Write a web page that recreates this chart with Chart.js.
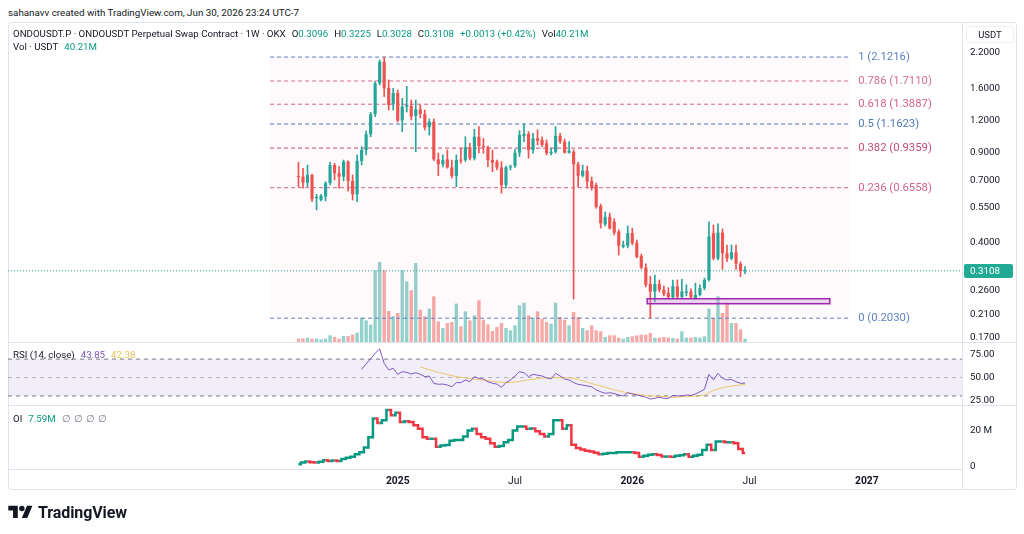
<!DOCTYPE html>
<html>
<head>
<meta charset="utf-8">
<script src="https://cdn.jsdelivr.net/npm/chart.js"></script>
<style>
  body { margin:0; background:#fff; width:1024px; height:534px; overflow:hidden; font-family: Roboto, "Noto Sans", sans-serif; color:#131722; }
  canvas { position:absolute; left:0; }
  .txt { position:absolute; white-space:nowrap; font-size:9.7px; line-height:12px; }
  .g { color:#089981; }
  .sp { margin-left:6px; }
  .hl { position:absolute; height:1px; background:#e0e3eb; }
  .vl { position:absolute; width:1px; background:#e0e3eb; }
</style>
</head>
<body>
<div class="txt" style="left:8px;top:7px;font-size:9.8px">sahanavv created with TradingView.com, Jun 30, 2026 23:24 UTC-7</div>
<div id="frame" style="position:absolute;left:8px;top:22px;width:1007px;height:466px;border:1px solid #e0e3eb;border-radius:3px"></div>

<canvas id="mainChart" width="1024" height="324" style="top:22px"></canvas>
<canvas id="rsiChart" width="1024" height="66" style="top:342px"></canvas>
<canvas id="oiChart" width="1024" height="85" style="top:405px"></canvas>

<div class="hl" style="left:8px;top:342px;width:1008px"></div>
<div class="hl" style="left:8px;top:405px;width:1008px"></div>
<div class="vl" style="left:962px;top:468px;height:21px"></div>

<div class="txt" style="left:13px;top:28px">ONDOUSDT.P · ONDOUSDT Perpetual Swap Contract · 1W · OKX<span class="sp">O</span><span class="g">0.3096</span><span class="sp">H</span><span class="g">0.3225</span><span class="sp">L</span><span class="g">0.3028</span><span class="sp">C</span><span class="g">0.3108</span><span class="sp g">+0.0013 (+0.42%)</span><span class="sp">Vol</span><span class="g">40.21M</span></div>
<div class="txt" style="left:13px;top:41px">Vol · USDT<span class="sp g">40.21M</span></div>
<div class="txt" style="left:966px;top:26px;width:46px;height:15px;line-height:15px;text-align:center;font-size:9.5px;border:1px solid #eef0f3;border-radius:2px">USDT</div>
<div class="txt" style="left:13px;top:349px">RSI (14, close)<span class="sp" style="color:#7e57c2">43.85</span><span class="sp" style="color:#e9c25a">42.38</span></div>
<div class="txt" style="left:13px;top:413px">OI<span class="sp g">7.59M</span><span class="sp" style="color:#787b86;letter-spacing:3px">∅∅∅∅</span></div>

<div style="position:absolute;left:8px;top:502px;height:20px;display:flex;align-items:center">
  <svg width="25" height="19" viewBox="0 0 36 28"><path d="M14 22H7V11H0V4h14v18zM28 22h-8l7.5-18h8L28 22z" fill="#131722"/><circle cx="20" cy="8" r="4" fill="#131722"/></svg>
  <span style="margin-left:5px;font-size:16px;font-weight:700;letter-spacing:-0.1px">TradingView</span>
</div>

<script>
// weekly bars, index 0 = week of Aug 5 2024, index 99 = week of Jun 29 2026
var opens = [0.728,0.724,0.686,0.735,0.597,0.587,0.605,0.683,0.804,0.747,
  0.724,0.829,0.697,0.618,0.834,0.920,1.060,1.268,1.676,2.035,
  1.606,1.388,1.536,1.200,1.358,1.367,1.249,1.326,1.272,1.129,
  1.187,0.846,0.809,0.846,0.787,0.728,0.841,0.841,0.943,0.855,
  1.037,0.954,0.943,0.841,0.829,0.787,0.672,0.787,0.797,0.898,
  1.044,1.063,0.920,1.022,1.007,0.977,0.894,0.906,1.044,0.992,
  0.898,0.906,0.809,0.730,0.764,0.697,0.672,0.556,0.472,0.505,
  0.483,0.442,0.386,0.389,0.436,0.400,0.355,0.320,0.276,0.258,
  0.276,0.262,0.255,0.245,0.270,0.246,0.255,0.258,0.241,0.250,
  0.266,0.286,0.436,0.347,0.438,0.364,0.347,0.367,0.331,0.3096];
var highs = [0.824,0.781,0.804,0.742,0.618,0.618,0.692,0.824,0.817,0.793,
  0.841,0.834,0.735,0.880,0.948,1.092,1.291,1.700,2.066,2.1216,
  1.726,1.601,1.578,1.464,1.631,1.442,1.442,1.379,1.318,1.216,
  1.216,0.896,0.880,0.920,0.841,0.880,0.934,1.037,0.977,1.109,
  1.135,1.022,0.954,0.920,0.841,0.829,0.797,0.804,0.926,1.095,
  1.162,1.085,1.068,1.102,1.035,1.007,0.937,1.135,1.068,1.016,
  0.992,0.920,0.826,0.804,0.797,0.722,0.683,0.566,0.527,0.522,
  0.496,0.449,0.406,0.465,0.456,0.410,0.361,0.331,0.296,0.299,
  0.286,0.271,0.267,0.286,0.286,0.288,0.274,0.264,0.278,0.274,
  0.291,0.483,0.469,0.474,0.453,0.392,0.392,0.392,0.337,0.3225];
var lows = [0.662,0.653,0.662,0.578,0.537,0.582,0.582,0.672,0.703,0.653,
  0.697,0.636,0.587,0.578,0.804,0.880,1.037,1.241,1.650,1.487,
  1.318,1.318,1.184,1.085,1.295,1.205,0.906,1.227,1.102,1.053,
  0.837,0.730,0.790,0.781,0.716,0.662,0.817,0.829,0.841,0.841,
  0.896,0.894,0.793,0.757,0.769,0.624,0.653,0.769,0.787,0.867,
  0.992,0.855,0.894,0.963,0.948,0.880,0.880,0.894,0.977,0.894,
  0.894,0.241,0.660,0.722,0.653,0.642,0.545,0.456,0.465,0.452,
  0.429,0.358,0.382,0.382,0.392,0.349,0.316,0.269,0.2030,0.235,
  0.257,0.248,0.241,0.243,0.243,0.243,0.248,0.243,0.241,0.248,
  0.262,0.283,0.343,0.343,0.315,0.337,0.343,0.315,0.295,0.3028];
var closes = [0.722,0.686,0.735,0.591,0.604,0.610,0.683,0.804,0.747,0.724,
  0.829,0.697,0.618,0.834,0.920,1.060,1.268,1.676,2.035,1.601,
  1.379,1.536,1.200,1.358,1.379,1.243,1.326,1.272,1.127,1.187,
  0.846,0.809,0.841,0.787,0.728,0.841,0.836,0.943,0.855,1.037,
  0.954,0.943,0.841,0.821,0.787,0.672,0.787,0.793,0.898,1.053,
  1.063,0.920,1.022,1.001,0.963,0.894,0.906,1.044,0.992,0.898,
  0.914,0.809,0.730,0.764,0.692,0.655,0.552,0.476,0.505,0.455,
  0.438,0.389,0.392,0.436,0.398,0.352,0.320,0.274,0.258,0.276,
  0.262,0.252,0.245,0.271,0.246,0.258,0.258,0.245,0.250,0.266,
  0.286,0.423,0.347,0.438,0.364,0.347,0.367,0.331,0.3096,0.3108];
// volume in millions USDT
var volumes = [41,44,52,40,40,32,40,80,60,40,
  72,72,88,112,292,260,208,860,960,860,
  372,308,348,860,728,620,948,388,308,400,
  548,248,168,228,240,460,188,368,260,320,
  500,268,212,132,180,228,168,140,200,440,
  472,320,292,368,280,240,220,472,300,268,
  200,360,300,168,140,200,140,128,60,80,
  80,52,40,60,68,80,88,88,108,52,
  52,60,52,48,40,128,52,52,60,52,
  68,400,288,548,348,472,228,228,152,40.21];

var rsiStart = 14;
var rsiValues = [58.9,64.7,70.4,76.3,81.0,65.4,58.2,60.0,53.5,56.3,
  55.6,53.8,55.2,53.5,50.9,51.6,43.7,42.6,42.9,41.8,
  40.0,44.4,44.4,47.3,45.4,50.9,49.1,48.4,45.4,43.7,
  42.9,39.3,44.4,47.3,51.6,56.3,
  55.2,50.9,53.5,52.5,51.6,49.5,48.4,54.5,51.6,48.4,
  47.3,44.5,42.5,41.8,40.8,40.0,36.4,34.5,32.8,33.5,
  32.5,31.0,29.9,33.5,32.1,31.0,30.0,28.5,26.6,27.5,
  28.5,27.4,27.4,30.5,30.0,29.9,31.0,30.5,32.1,34.5,
  37.2,53.5,47.3,54.5,49.1,47.3,47.9,45.5,43.7,43.85];
var rsiMaStart = 27;
var rsiMa = [61.7,60.0,58.5,57.0,55.5,54.5,53.2,52.0,51.0,50.2,
  49.5,49.0,48.2,47.5,47.0,46.5,45.8,45.2,44.8,44.6,44.6,45.0,45.8,
  46.7,47.5,48.0,48.7,49.3,49.7,49.8,49.8,49.8,49.8,
  49.6,49.1,47.8,46.4,45.0,43.5,42.0,40.8,39.5,38.0,
  36.6,35.5,34.4,33.3,32.5,31.8,31.0,30.4,30.0,29.8,
  29.6,29.3,28.9,28.6,28.7,29.1,29.4,29.5,29.7,30.0,
  31.0,33.5,36.0,37.5,38.8,40.0,40.6,41.3,41.9,42.38];
var rsiBands = [70, 50, 30];

// open interest, millions
var oiValues = [1.5,2.5,3.0,2.6,2.4,2.8,3.7,3.3,3.5,3.2,
  4.3,5.0,5.6,7.0,8.0,10.7,16.3,26.5,24.1,25.6,
  31.1,28.3,29.6,24.6,25.0,24.6,22.8,20.9,16.3,15.4,
  15.4,11.1,11.7,12.0,14.4,14.8,14.8,16.7,20.0,20.9,
  18.1,16.3,15.4,13.0,11.1,11.5,13.5,14.8,20.0,22.2,
  22.2,20.9,21.0,19.5,18.1,16.7,18.1,25.6,25.6,20.9,
  22.8,12.2,10.4,9.5,8.9,8.5,7.8,7.0,7.2,7.6,
  7.6,8.0,8.0,8.0,8.0,7.6,5.6,6.2,6.7,7.0,
  6.5,5.7,5.7,5.6,6.1,6.4,7.0,5.6,6.2,6.7,
  9.3,12.2,9.3,13.9,13.9,13.5,13.5,13.0,9.8,7.59];

var fibLevels = [1, 0.786, 0.618, 0.5, 0.382, 0.236, 0];
var fibPrices = [2.1216, 1.7110, 1.3887, 1.1623, 0.9359, 0.6558, 0.2030];
var fibColors = ['#5d80bd', '#d66f8e', '#d4628a', '#4f78b5', '#c24d78', '#d4648a', '#5d80bd'];
var fibFrom = -6.3, fibTo = 122.3;

var boxFrom = 77.3, boxTo = 117.8, boxLow = 0.2312, boxHigh = 0.2418;
var lastPrice = 0.3108;

var priceTicks = [2.2, 1.6, 1.2, 0.9, 0.7, 0.55, 0.4, 0.26, 0.21, 0.17];
var rsiTicks = [25, 50, 75];
var oiTicks = [0, 20];
// first weekly bar of each period: Jan 6 2025, Jul 7 2025, Jan 5 2026, Jul 6 2026, Jan 4 2027
var timeTicks = [22, 48, 74, 100, 126];
var timeLabels = ['2025', 'Jul', '2026', 'Jul', '2027'];

var xMin = -64.4, xMax = 147.1;
var UP = '#26a69a', DOWN = '#ef5350';
var FONT = 'Roboto, "Noto Sans", sans-serif';

Chart.defaults.font.family = FONT;
Chart.defaults.font.size = 9.8;
Chart.defaults.color = '#131722';
Chart.defaults.animation = false;
Chart.defaults.events = [];
Chart.defaults.plugins.legend.display = false;
Chart.defaults.plugins.tooltip.enabled = false;

function candleColor(c) {
    return closes[c.dataIndex] >= opens[c.dataIndex] ? UP : DOWN;
}
function volColor(c) {
    return closes[c.dataIndex] >= opens[c.dataIndex] ? 'rgba(38,166,154,0.5)' : 'rgba(239,83,80,0.5)';
}
function hLine(y, x0, x1) {
    return [{x: x0, y: y}, {x: x1, y: y}];
}
function hiddenX() {
    return {type: 'linear', min: xMin, max: xMax, display: false, offset: false};
}
function rightAxis(extra) {
    var a = {
        position: 'right',
        grid: {display: false, drawTicks: false},
        border: {display: true, color: '#e0e3eb'},
        ticks: {padding: 8, autoSkip: false},
        afterFit: function(s) {
            // fixed price-scale width, no extra room for the end labels
            s.width = 54;
            s.paddingTop = 0;
            s.paddingBottom = 0;
        }
    };
    for (var k in extra) a[k] = extra[k];
    return a;
}

// ---------- main pane ----------
var mainSets = [];
mainSets.push({
    type: 'bar', yAxisID: 'yv', order: 10,
    data: volumes.map(function(v, i) { return {x: i, y: v}; }),
    backgroundColor: volColor, barPercentage: 0.75, categoryPercentage: 1, grouped: false
});
var fibFirst = mainSets.length;
for (var f = 0; f < fibLevels.length; f++) {
    var last = f == fibLevels.length - 1;
    mainSets.push({
        type: 'line', yAxisID: 'y', order: 8,
        data: hLine(fibPrices[f], fibFrom, fibTo),
        borderColor: fibColors[f], borderWidth: 1, borderDash: [4, 3], pointRadius: 0,
        fill: last ? {target: fibFirst} : false,
        backgroundColor: 'rgba(233,30,99,0.028)'
    });
}
mainSets.push({
    type: 'line', yAxisID: 'y', order: 7,
    data: hLine(lastPrice, xMin, xMax),
    borderColor: UP, borderWidth: 1, borderDash: [1, 2], pointRadius: 0
});
mainSets.push({
    type: 'bar', yAxisID: 'y', order: 2,
    data: lows.map(function(v, i) { return {x: i, y: [v, highs[i]]}; }),
    backgroundColor: candleColor, barThickness: 1, grouped: false
});
mainSets.push({
    type: 'bar', yAxisID: 'y', order: 1,
    data: opens.map(function(v, i) { return {x: i, y: [v, closes[i]]}; }),
    backgroundColor: candleColor, barPercentage: 0.7, categoryPercentage: 1, grouped: false, minBarLength: 1
});

var drawings = {
    id: 'drawings',
    afterDatasetsDraw: function(chart) {
        var ctx = chart.ctx, xs = chart.scales.x, ys = chart.scales.y;
        // support box
        var bx0 = xs.getPixelForValue(boxFrom), bx1 = xs.getPixelForValue(boxTo);
        var by0 = ys.getPixelForValue(boxHigh), by1 = ys.getPixelForValue(boxLow);
        ctx.save();
        ctx.fillStyle = 'rgba(206,147,216,0.35)';
        ctx.fillRect(bx0, by0, bx1 - bx0, by1 - by0);
        ctx.strokeStyle = '#9c27b0';
        ctx.lineWidth = 1.5;
        ctx.strokeRect(bx0, by0, bx1 - bx0, by1 - by0);
        // fib labels
        ctx.font = '11.3px ' + FONT;
        ctx.textBaseline = 'middle';
        ctx.textAlign = 'left';
        var lx = xs.getPixelForValue(fibTo) + 8;
        for (var i = 0; i < fibLevels.length; i++) {
            ctx.fillStyle = fibColors[i];
            ctx.fillText(fibLevels[i] + ' (' + fibPrices[i].toFixed(4) + ')', lx, ys.getPixelForValue(fibPrices[i]));
        }
        ctx.restore();
    },
    afterDraw: function(chart) {
        var ctx = chart.ctx, ys = chart.scales.y;
        var py = Math.round(ys.getPixelForValue(lastPrice));
        ctx.save();
        ctx.fillStyle = '#22ab94';
        ctx.beginPath();
        ctx.roundRect(964, py - 7, 49, 14, 2);
        ctx.fill();
        ctx.fillStyle = '#fff';
        ctx.font = '9.8px ' + FONT;
        ctx.textBaseline = 'middle';
        ctx.fillText(lastPrice.toFixed(4), 970, py + 0.5);
        ctx.restore();
    }
};

new Chart(document.getElementById('mainChart'), {
    type: 'bar',
    data: {datasets: mainSets},
    options: {
        responsive: false,
        layout: {padding: {left: 8, right: 8, top: 0, bottom: 4}},
        scales: {
            x: hiddenX(),
            y: rightAxis({
                type: 'logarithmic', min: 0.1639, max: 2.907,
                afterBuildTicks: function(s) { s.ticks = priceTicks.map(function(v) { return {value: v}; }); },
                ticks: {padding: 8, autoSkip: false, callback: function(v) { return Number(v).toFixed(4); }}
            }),
            yv: {type: 'linear', min: 0, max: 3840, display: false}
        }
    },
    plugins: [drawings]
});

// ---------- RSI pane ----------
new Chart(document.getElementById('rsiChart'), {
    type: 'line',
    data: {datasets: [
        {data: hLine(rsiBands[0], xMin, xMax), borderColor: '#787b86', borderWidth: 1, borderDash: [4, 4], pointRadius: 0, order: 5},
        {data: hLine(rsiBands[2], xMin, xMax), borderColor: '#787b86', borderWidth: 1, borderDash: [4, 4], pointRadius: 0, order: 5,
         fill: {target: 0}, backgroundColor: 'rgba(126,87,194,0.1)'},
        {data: hLine(rsiBands[1], xMin, xMax), borderColor: 'rgba(120,123,134,0.5)', borderWidth: 1, borderDash: [4, 4], pointRadius: 0, order: 4},
        {data: rsiMa.map(function(v, i) { return {x: i + rsiMaStart, y: v}; }), borderColor: '#ecc668', borderWidth: 1, pointRadius: 0, order: 2},
        {data: rsiValues.map(function(v, i) { return {x: i + rsiStart, y: v}; }), borderColor: '#7e57c2', borderWidth: 1, pointRadius: 0, order: 1}
    ]},
    options: {
        responsive: false,
        layout: {padding: {left: 8, right: 8, top: 0, bottom: 3}},
        scales: {
            x: hiddenX(),
            y: rightAxis({
                type: 'linear', min: 20.11, max: 88.59,
                afterBuildTicks: function(s) { s.ticks = rsiTicks.map(function(v) { return {value: v}; }); },
                ticks: {padding: 8, autoSkip: false, callback: function(v) { return Number(v).toFixed(2); }}
            })
        }
    }
});

// ---------- OI pane + time axis ----------
new Chart(document.getElementById('oiChart'), {
    type: 'line',
    data: {datasets: [{
        data: oiValues.map(function(v, i) { return {x: i, y: v}; }),
        borderWidth: 2.5, pointRadius: 0, stepped: 'middle', borderColor: '#089981',
        segment: {borderColor: function(c) { return c.p1.parsed.y >= c.p0.parsed.y ? '#089981' : '#f23645'; }}
    }]},
    options: {
        responsive: false,
        layout: {padding: {left: 8, right: 8, top: 0, bottom: 0}},
        scales: {
            x: {
                type: 'linear', min: xMin, max: xMax, offset: false,
                grid: {display: false, drawTicks: false},
                border: {display: true, color: '#e0e3eb'},
                afterBuildTicks: function(s) { s.ticks = timeTicks.map(function(v) { return {value: v}; }); },
                afterFit: function(s) { s.height = 21; },
                ticks: {
                    padding: 6, autoSkip: false, maxRotation: 0,
                    callback: function(v) { return timeLabels[timeTicks.indexOf(v)]; },
                    font: function(c) {
                        var lab = timeLabels[timeTicks.indexOf(c.tick && c.tick.value)] || '';
                        return {size: 10.3, weight: lab.length == 4 ? 'bold' : 'normal'};
                    }
                }
            },
            y: rightAxis({
                type: 'linear', min: -1.11, max: 33.9,
                afterBuildTicks: function(s) { s.ticks = oiTicks.map(function(v) { return {value: v}; }); },
                ticks: {padding: 8, autoSkip: false, callback: function(v) { return v == 0 ? '0' : v + ' M'; }}
            })
        }
    }
});
</script>
</body>
</html>
